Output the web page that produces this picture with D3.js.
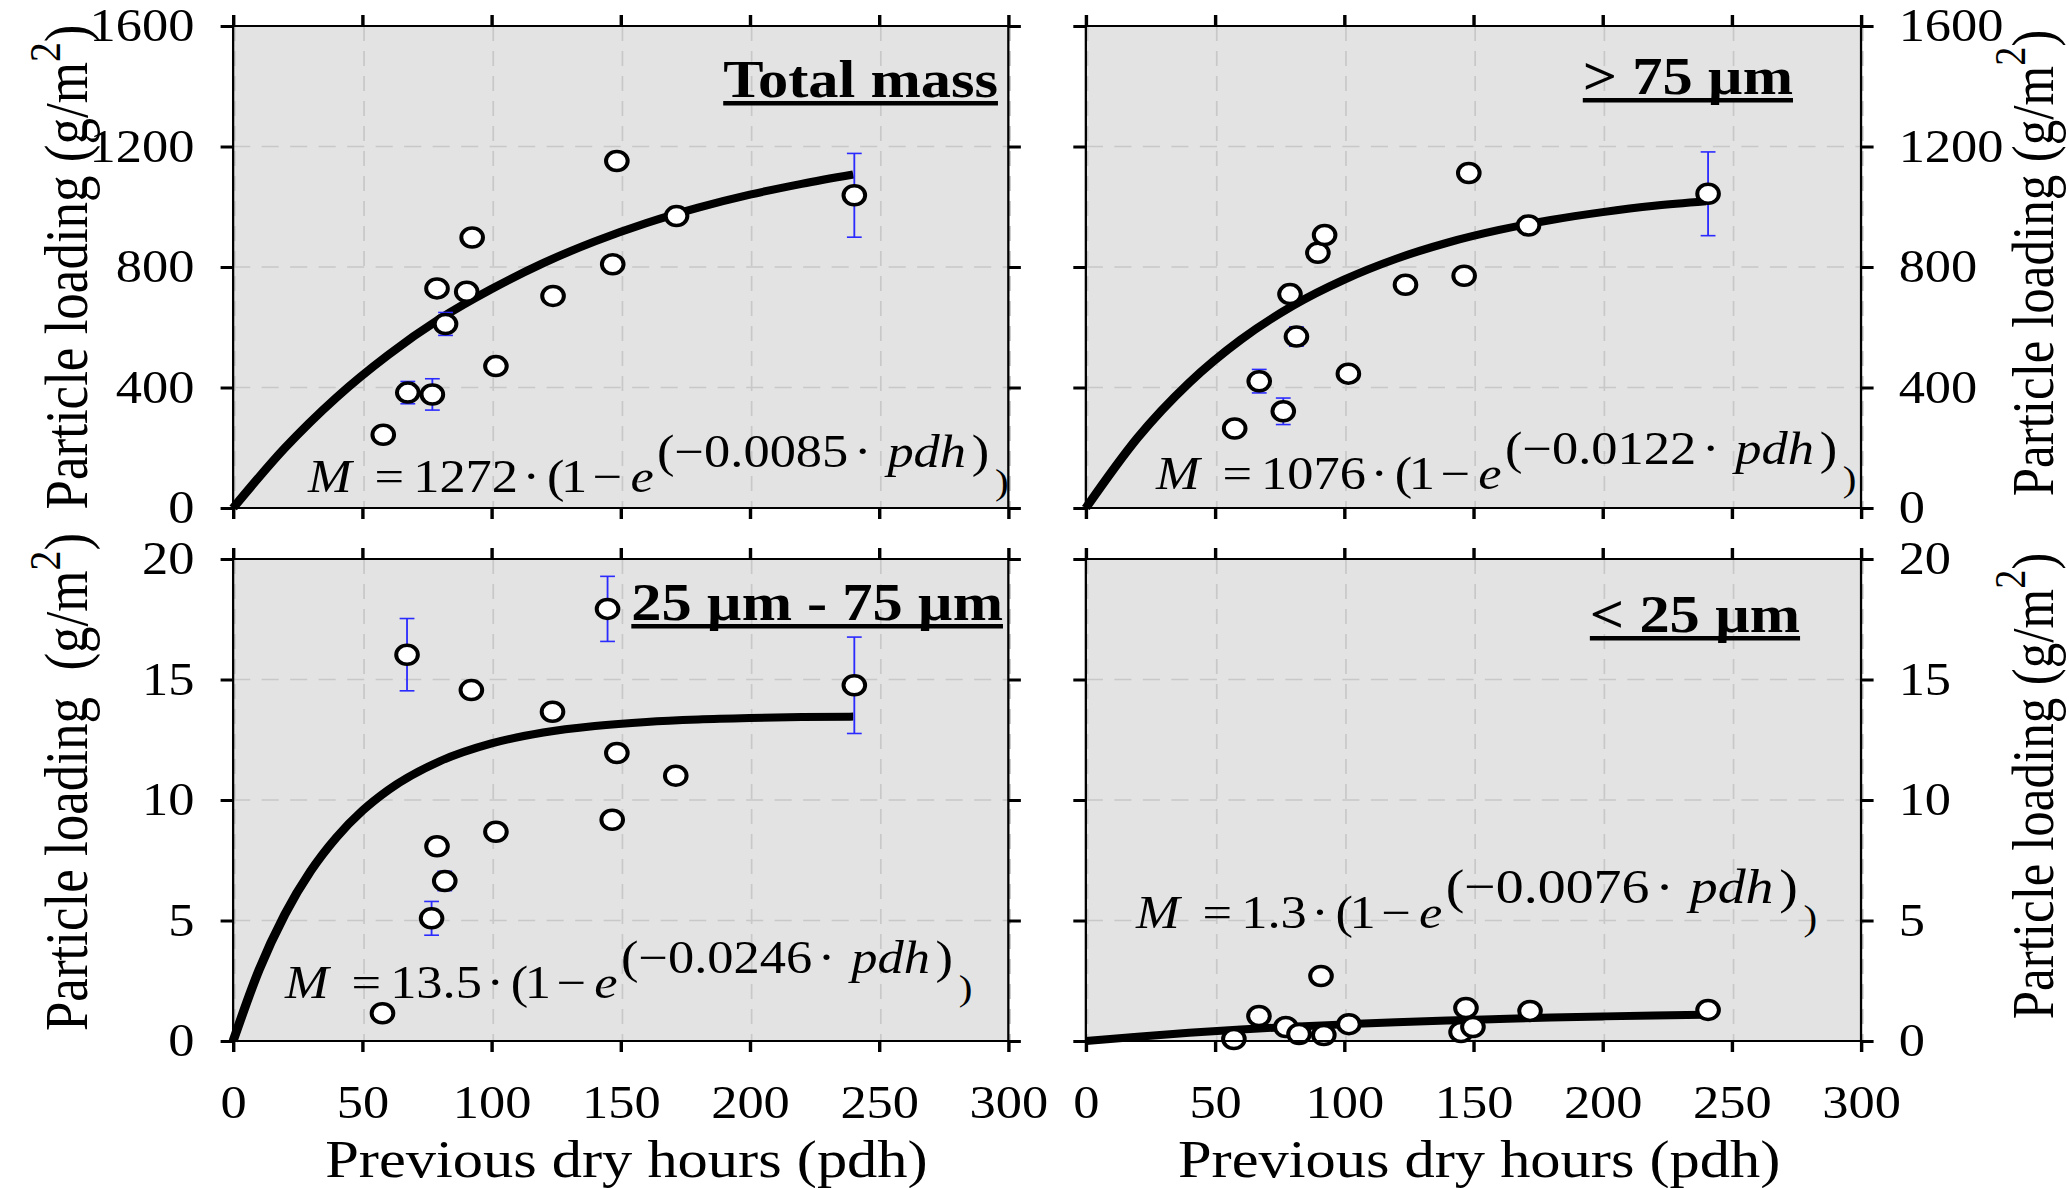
<!DOCTYPE html>
<html>
<head>
<meta charset="utf-8">
<script src="https://cdn.jsdelivr.net/npm/d3@7"></script>
<style>
  body { margin: 0; background: #fff; }
  svg { display: block; }
  text { font-family: "Liberation Serif", "Times New Roman", serif; fill: #000; }
</style>
</head>
<body>
<svg id="chart" width="2069" height="1188"></svg>
<script>
// ---- data ----
// total mass (g/m2)
var pdhTotal  = [58.1, 67.6, 77.1, 78.9, 82.2, 90.4, 92.5, 101.7, 123.8, 146.9, 148.5, 171.6, 240.4];
var loadTotal = [243, 383, 377, 729, 611, 718, 898, 471, 704, 809, 1152, 969, 1038];
var errTotal  = [0, 37, 52, 0, 38, 0, 0, 0, 0, 0, 0, 0, 139];
// > 75 um
var pdhCoarse  = [57.6, 67.1, 76.4, 79.0, 81.5, 89.8, 92.4, 101.6, 123.7, 146.4, 148.2, 171.3, 240.8];
var loadCoarse = [264, 421, 321, 710, 569, 847, 906, 446, 741, 771, 1112, 938, 1043];
var errCoarse  = [0, 39, 44, 0, 32, 0, 0, 0, 0, 0, 0, 0, 139];
// 25 um - 75 um
var pdhMid  = [57.8, 67.3, 76.8, 78.9, 81.9, 92.2, 101.7, 123.6, 144.9, 146.7, 148.5, 171.3, 240.4];
var loadMid = [1.15, 16.03, 5.09, 8.08, 6.64, 14.56, 8.68, 13.66, 17.93, 9.18, 11.95, 11.01, 14.76];
var errMid  = [0, 1.5, 0.7, 0, 0.4, 0, 0, 0, 1.35, 0, 0, 0, 2.0];
// < 25 um
var pdhFine  = [57.3, 67.0, 77.4, 82.5, 91.0, 92.1, 101.8, 145.2, 147.1, 149.8, 171.9, 240.8];
var loadFine = [0.08, 1.04, 0.58, 0.29, 2.70, 0.25, 0.70, 0.37, 1.37, 0.58, 1.25, 1.29];

// fitted curves, sampled from the drawn lines
var fitPdh      = [0, 20, 40, 60, 80, 100, 120, 140, 160, 180, 200, 220, 240];
var fitTotal    = [0, 199, 367, 508, 628, 727, 813, 885, 946, 997, 1040, 1076, 1107];
var fitCoarse   = [0, 233, 416, 559, 671, 758, 827, 881, 923, 956, 982, 1003, 1018];
var fitFine     = [0, 0.18, 0.34, 0.48, 0.59, 0.69, 0.78, 0.85, 0.91, 0.97, 1.02, 1.06, 1.09];
var fitPdhMid   = [0, 10, 20, 30, 40, 50, 60, 80, 100, 120, 140, 160, 180, 200, 220, 240];
var fitMidVals  = [0, 2.94, 5.25, 7.05, 8.45, 9.55, 10.41, 11.61, 12.35, 12.80, 13.07, 13.24, 13.34, 13.40, 13.44, 13.46];

var xTicks      = [0, 50, 100, 150, 200, 250, 300];
var yTicksMass  = [0, 400, 800, 1200, 1600];
var yTicksSmall = [0, 5, 10, 15, 20];

var titles = ["Total mass", "> 75 \u00b5m", "25 \u00b5m - 75 \u00b5m", "< 25 \u00b5m"];
var coefA  = ["1272", "1076", "13.5", "1.3"];
var coefB  = ["0.0085", "0.0122", "0.0246", "0.0076"];

// ---- layout ----
var S = 1.14;          // the original figure is stretched horizontally
var W = 680, H = 482;  // panel size in unstretched units

var panels = [
  { px: 204.5, py: 26,  side: "left",  xlab: false, pdh: pdhTotal,  val: loadTotal,  err: errTotal,
    fx: fitPdh,    fy: fitTotal,   yMax: 1600, yt: yTicksMass,  eq: [65.7, 466], sup: 46, ttl: [670.9, 71],
    lab: { x: -128, dy: 0, size: 53 } },
  { px: 952.5, py: 26,  side: "right", xlab: false, pdh: pdhCoarse, val: loadCoarse, err: errCoarse,
    fx: fitPdh,    fy: fitCoarse,  yMax: 1600, yt: yTicksMass,  eq: [61.5, 463], sup: 46, ttl: [620.3, 68],
    lab: { x: 848, dy: -4, size: 51 } },
  { px: 204.5, py: 559, side: "left",  xlab: true,  pdh: pdhMid,    val: loadMid,    err: errMid,
    fx: fitPdhMid, fy: fitMidVals, yMax: 20,   yt: yTicksSmall, eq: [45.5, 439], sup: 46, ttl: [675.3, 61],
    lab: { x: -128, dy: -18, size: 53 } },
  { px: 952.5, py: 559, side: "right", xlab: true,  pdh: pdhFine,   val: loadFine,   err: null,
    fx: fitPdh,    fy: fitFine,    yMax: 20,   yt: yTicksSmall, eq: [44, 369], sup: 49, ttl: [626.5, 73],
    lab: { x: 848, dy: -14, size: 51 } }
];

var svg = d3.select("#chart");
var root = svg.append("g").attr("transform", "scale(" + S + ",1)");

var x = d3.scaleLinear().domain([0, 300]).range([0, W]);
var fmt = d3.format("d");

panels.forEach(function(p, i) {
  var y = d3.scaleLinear().domain([0, p.yMax]).range([H, 0]);
  var g = root.append("g").attr("transform", "translate(" + p.px + "," + p.py + ")");

  g.append("rect").attr("width", W).attr("height", H).attr("fill", "#e3e3e3");

  // dashed grid
  g.selectAll(".vgrid").data(xTicks).enter().append("line")
    .attr("x1", function(d) { return x(d) + 1.5; }).attr("x2", function(d) { return x(d) + 1.5; })
    .attr("y1", 0).attr("y2", H)
    .attr("stroke", "#c8c8c8").attr("stroke-width", 1.5).attr("stroke-dasharray", "15,10");
  g.selectAll(".hgrid").data(p.yt).enter().append("line")
    .attr("x1", 0).attr("x2", W)
    .attr("y1", function(d) { return y(d); }).attr("y2", function(d) { return y(d); })
    .attr("stroke", "#c8c8c8").attr("stroke-width", 1.5).attr("stroke-dasharray", "15,10");

  // fitted curve
  var line = d3.line()
    .x(function(d) { return x(d[0]); })
    .y(function(d) { return y(d[1]); })
    .curve(d3.curveMonotoneX);
  g.append("path")
    .datum(d3.zip(p.fx, p.fy))
    .attr("d", line)
    .attr("fill", "none").attr("stroke", "#000").attr("stroke-width", 8);

  var pts = p.pdh.map(function(d, k) { return { x: d, v: p.val[k], e: p.err ? p.err[k] : 0 }; });

  // error bars
  var eb = g.selectAll(".eb").data(pts.filter(function(d) { return d.e > 0; })).enter().append("g")
    .attr("stroke", "#2b2bff").attr("stroke-width", 1.6);
  eb.append("line")
    .attr("x1", function(d) { return x(d.x); }).attr("x2", function(d) { return x(d.x); })
    .attr("y1", function(d) { return y(d.v + d.e); }).attr("y2", function(d) { return y(d.v - d.e); });
  eb.append("line")
    .attr("x1", function(d) { return x(d.x) - 6.5; }).attr("x2", function(d) { return x(d.x) + 6.5; })
    .attr("y1", function(d) { return y(d.v + d.e); }).attr("y2", function(d) { return y(d.v + d.e); });
  eb.append("line")
    .attr("x1", function(d) { return x(d.x) - 6.5; }).attr("x2", function(d) { return x(d.x) + 6.5; })
    .attr("y1", function(d) { return y(d.v - d.e); }).attr("y2", function(d) { return y(d.v - d.e); });

  // open circles
  g.selectAll(".pt").data(pts).enter().append("circle")
    .attr("cx", function(d) { return x(d.x); })
    .attr("cy", function(d) { return y(d.v); })
    .attr("r", 9.5)
    .attr("fill", "#fff").attr("stroke", "#000").attr("stroke-width", 3.5);

  // equation
  var t = g.append("text").attr("x", p.eq[0]).attr("y", p.eq[1]).attr("font-size", 46);
  t.append("tspan").attr("font-style", "italic").text("M");
  t.append("tspan").attr("dx", 20).text("=");
  t.append("tspan").attr("dx", 8).text(coefA[i]);
  t.append("tspan").attr("dx", 4).text("\u00b7");
  t.append("tspan").attr("dx", 6).text("(");
  t.append("tspan").attr("dx", -3).text("1");
  t.append("tspan").attr("dx", 5).text("\u2212");
  t.append("tspan").attr("dx", 7).attr("font-style", "italic").text("e");
  var sp = t.append("tspan").attr("dx", 3).attr("dy", -25).attr("font-size", p.sup);
  sp.append("tspan").text("(\u2212" + coefB[i]);
  sp.append("tspan").attr("dx", 5).text("\u00b7");
  sp.append("tspan").attr("dx", 14).attr("font-style", "italic").text("pdh");
  sp.append("tspan").attr("dx", 5).text(")");
  t.append("tspan").attr("dx", 5).attr("dy", 27).attr("font-size", 36).text(")");

  // underlined bold title
  var tt = g.append("text").attr("x", p.ttl[0]).attr("y", p.ttl[1])
    .attr("text-anchor", "end").attr("font-size", 53).attr("font-weight", "bold")
    .text(titles[i]);
  var bb = tt.node().getBBox();
  g.append("rect").attr("x", bb.x).attr("y", p.ttl[1] + 4).attr("width", bb.width).attr("height", 4.5)
    .attr("fill", "#000");

  // frame
  g.append("rect").attr("width", W).attr("height", H)
    .attr("fill", "none").attr("stroke", "#000").attr("stroke-width", 2);

  // axes: ticks on all four sides, pointing out
  function styleAxis(a) {
    a.select(".domain").remove();
    a.selectAll(".tick line").attr("stroke", "#000").attr("stroke-width", 3);
    a.attr("font-size", 46).attr("font-family", "'Liberation Serif', 'Times New Roman', serif");
    a.selectAll(".tick text").attr("fill", "#000");
  }
  var yl = d3.axisLeft(y).tickValues(p.yt).tickSize(11).tickPadding(23).tickFormat(fmt);
  var yr = d3.axisRight(y).tickValues(p.yt).tickSize(11).tickPadding(22).tickFormat(fmt);
  if (p.side === "left") yr.tickFormat(""); else yl.tickFormat("");
  g.append("g").call(yl).call(styleAxis);
  g.append("g").attr("transform", "translate(" + W + ",0)").call(yr).call(styleAxis);

  g.append("g").call(d3.axisTop(x).tickValues(xTicks).tickSize(11).tickFormat("")).call(styleAxis);
  var xb = d3.axisBottom(x).tickValues(xTicks).tickSize(11).tickPadding(33).tickFormat(fmt);
  if (!p.xlab) xb.tickFormat("");
  g.append("g").attr("transform", "translate(0," + H + ")").call(xb).call(styleAxis);

  // axis titles
  var lab = (i === 2) ? "Particle loading\u00a0\u00a0(g/m" : "Particle loading (g/m";
  var yt = g.append("text")
    .attr("transform", "translate(" + p.lab.x + "," + (H / 2 + p.lab.dy) + ") rotate(-90)")
    .attr("text-anchor", "middle").attr("font-size", p.lab.size);
  yt.append("tspan").text(lab);
  yt.append("tspan").attr("font-size", p.lab.size * 0.75).attr("dy", -24).text("2");
  yt.append("tspan").attr("dy", 24).text(")");

  if (p.xlab) {
    g.append("text").attr("x", W / 2 + 5).attr("y", H + 136)
      .attr("text-anchor", "middle").attr("font-size", 53)
      .text("Previous dry hours (pdh)");
  }
});
</script>
</body>
</html>
